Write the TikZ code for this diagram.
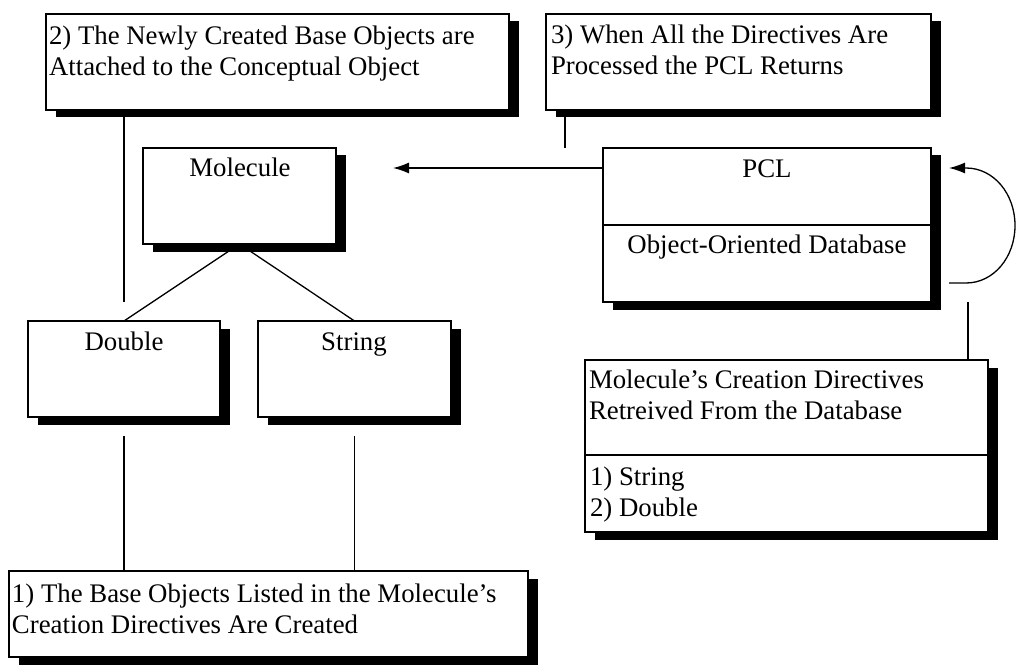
\documentclass[tikz,border=0pt]{standalone}
\usepackage{fontspec}
\setmainfont{Liberation Serif}
\usetikzlibrary{shadows,arrows.meta,calc}

% two lines of text whose reference point is the baseline of the first line
\newcommand{\twolines}[2]{\vtop{\baselineskip=31pt\hbox{#1}\hbox{#2}}}

\tikzset{
  box/.style={draw=black, line width=1.2pt, fill=white, inner sep=0pt, outer sep=0pt,
    anchor=north west,
    drop shadow={shadow xshift=10pt, shadow yshift=-7.5pt, fill=black, opacity=1}},
  txt/.style={inner sep=0pt, outer sep=0pt, font=\fontsize{26.8}{31}\selectfont},
  link/.style={draw=black, line width=1.3pt},
  arr/.style={link, -{Latex[length=16pt, width=11pt]}}
}

\begin{document}
\begin{tikzpicture}[x=1pt, y=-1pt]
\useasboundingbox (0,0) rectangle (1016,668);

% boxes
\node[box, minimum width=463pt, minimum height=96pt]  (b2)  at (46,14)  {};
\node[box, minimum width=385pt, minimum height=96pt]  (b3)  at (546,14) {};
\node[box, minimum width=193pt, minimum height=96pt]  (mol) at (143,148) {};
\node[box, minimum width=328pt, minimum height=154pt] (pcl) at (603,148) {};
\node[box, minimum width=192pt, minimum height=96pt]  (dbl) at (28,321) {};
\node[box, minimum width=193pt, minimum height=96pt]  (str) at (258,321) {};
\node[box, minimum width=403pt, minimum height=172pt] (dir) at (585,360) {};
\node[box, minimum width=519pt, minimum height=86pt]  (b1)  at (9,571)  {};

% compartment dividers
\draw[line width=1.2pt] ([yshift=-77pt]pcl.north west) -- ([yshift=-77pt]pcl.north east);
\draw[line width=1.2pt] ([yshift=-95pt]dir.north west) -- ([yshift=-95pt]dir.north east);

% labels
\node[txt, anchor=base west] (t2) at (49,45)
  {\twolines{2) The Newly Created Base Objects are}{Attached to the Conceptual Object}};
\node[txt, anchor=base west] (t3) at (551,44)
  {\twolines{3) When All the Directives Are}{Processed the PCL Returns}};
\node[txt, anchor=base] (tmol) at (240,177) {Molecule};
\node[txt, anchor=base] (tpcl) at (767,178) {PCL};
\node[txt, anchor=base] (tdb)  at (767,253) {Object-Oriented Database};
\node[txt, anchor=base] (tdbl) at (124,350) {Double};
\node[txt, anchor=base] (tstr) at (354,350) {String};
\node[txt, anchor=base west] (tdir) at (589,388)
  {\twolines{Molecule’s Creation Directives}{Retreived From the Database}};
\node[txt, anchor=base west] (tlist) at (590,485)
  {\twolines{1) String}{2) Double}};
\node[txt, anchor=base west] (t1) at (12,602)
  {\twolines{1) The Base Objects Listed in the Molecule’s}{Creation Directives Are Created}};

% connectors
\coordinate (retend) at (393,168);
\draw[arr] ([yshift=-20pt]pcl.north west) -- (retend);

\draw[link] (mol.south) -- (dbl.north);
\draw[link] (mol.south) -- (str.north);

\draw[link] (b2.south -| dbl.north) -- ([yshift=19pt]dbl.north);
\draw[link] ([xshift=19pt]b3.south west) -- ([xshift=19pt]b3.south west |- pcl.north);

\draw[link] ([yshift=-19pt]dbl.south) -- (dbl.south |- b1.north);
\draw[link] ([yshift=-19pt]str.south) -- (str.south |- b1.north);

\draw[link] ([xshift=-20pt]dir.north east |- pcl.south) -- ([xshift=-20pt]dir.north east);

% self loop on the PCL box
\coordinate (loopout) at (949,283);
\coordinate (loopin)  at (949,168);
\draw[arr] (loopout) -- (966,283)
  .. controls (993.6,283) and (1015,257.3) .. (1015,225.5)
  .. controls (1015,193.7) and (993.6,168) .. (966,168) -- (loopin);
\end{tikzpicture}
\end{document}
